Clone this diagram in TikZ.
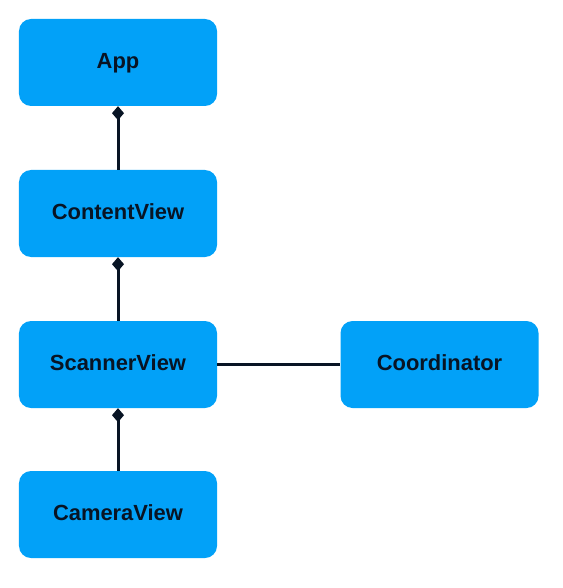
\documentclass[tikz,border=0pt]{standalone}
\usepackage{fontspec}
\setmainfont{Liberation Sans}
\usetikzlibrary{arrows.meta}
\definecolor{boxblue}{RGB}{2,161,248}
\definecolor{ink}{RGB}{8,20,36}

\begin{document}
\begin{tikzpicture}[x=1bp,y=-1bp,
	view/.style={fill=boxblue, rounded corners=12bp, minimum width=198bp, minimum height=87bp, inner sep=0pt, text height=16bp, text depth=4bp, text=ink, font=\fontsize{22}{26}\selectfont\bfseries},
	owns/.style={draw=ink, line width=3bp, {Diamond[length=14bp,width=12bp]}-},
	link/.style={draw=ink, line width=3bp}]
	\useasboundingbox (0,0) rectangle (563,588);
	\node (App) [view] at (118,62.5) {App};
	\node (ContentView) [view] at (118,213.5) {ContentView};
	\node (ScannerView) [view] at (118,364.5) {ScannerView};
	\node (CameraView) [view] at (118,514.5) {CameraView};
	
	\node (Coordinator) [view] at (439.5,364.5) {Coordinator};
	
	\draw [owns] (App) -- (ContentView);
	\draw [owns] (ContentView) -- (ScannerView);
	\draw [owns] (ScannerView) -- (CameraView);
	\draw [link] (ScannerView) -- (Coordinator);
\end{tikzpicture}
\end{document}
